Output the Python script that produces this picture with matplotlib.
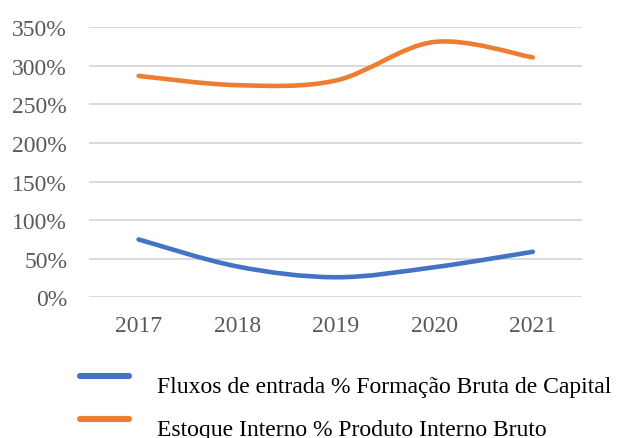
import matplotlib.pyplot as plt
from matplotlib.lines import Line2D
from matplotlib.path import Path
from matplotlib.patches import PathPatch

plt.rcParams["font.family"] = ["Liberation Serif", "DejaVu Serif"]

years = ["2017", "2018", "2019", "2020", "2021"]
fluxos = [0.75, 0.40, 0.26, 0.39, 0.59]
estoque = [2.87, 2.75, 2.81, 3.31, 3.11]
yticks = [0, 0.5, 1.0, 1.5, 2.0, 2.5, 3.0, 3.5]
labels = ["Fluxos de entrada % Formação Bruta de Capital",
          "Estoque Interno % Produto Interno Bruto"]

BLUE = "#4472C4"
ORANGE = "#ED7D31"


def smooth_path(xs, ys):
    # Excel-style smoothed line: cubic bezier through the points (Catmull-Rom)
    pts = list(zip(xs, ys))
    verts = [pts[0]]
    codes = [Path.MOVETO]
    n = len(pts)
    for i in range(n - 1):
        p0 = pts[max(i - 1, 0)]
        p1 = pts[i]
        p2 = pts[i + 1]
        p3 = pts[min(i + 2, n - 1)]
        c1 = (p1[0] + (p2[0] - p0[0]) / 6, p1[1] + (p2[1] - p0[1]) / 6)
        c2 = (p2[0] - (p3[0] - p1[0]) / 6, p2[1] - (p3[1] - p1[1]) / 6)
        verts += [c1, c2, p2]
        codes += [Path.CURVE4] * 3
    return Path(verts, codes)


fig = plt.figure(figsize=(6.18, 4.39), dpi=100)
ax = fig.add_axes([0.1445, 0.3205, 0.7974, 0.615])

x = list(range(len(years)))
for vals, color in [(fluxos, BLUE), (estoque, ORANGE)]:
    ax.add_patch(PathPatch(smooth_path(x, vals), facecolor="none",
                           edgecolor=color, linewidth=3.3, capstyle="round"))

ax.set_xlim(-0.5, len(years) - 0.5)
ax.set_ylim(0, 3.5)
ax.set_yticks(yticks)
ax.set_yticklabels([f"{int(round(v * 100))}%" for v in yticks])
ax.set_xticks(x)
ax.set_xticklabels(years)
ax.tick_params(axis="both", length=0, labelsize=17, labelcolor="#595959")
ax.tick_params(axis="y", pad=16)
ax.tick_params(axis="x", pad=13)
ax.grid(axis="y", color="#D9D9D9", linewidth=1.4)
ax.set_axisbelow(True)
for s in ax.spines.values():
    s.set_visible(False)

# legend below the plot, handle sits a little above its label as in the original
for i, (lab, color) in enumerate(zip(labels, [BLUE, ORANGE])):
    yl = 0.1412 - i * 0.098
    fig.add_artist(Line2D([0.130, 0.208], [yl, yl], transform=fig.transFigure,
                          color=color, linewidth=4.4, solid_capstyle="round"))
    fig.text(0.254, yl - 0.0364, lab, fontsize=17, color="black",
             va="baseline", ha="left")

fig.savefig("out.png", dpi=100)
